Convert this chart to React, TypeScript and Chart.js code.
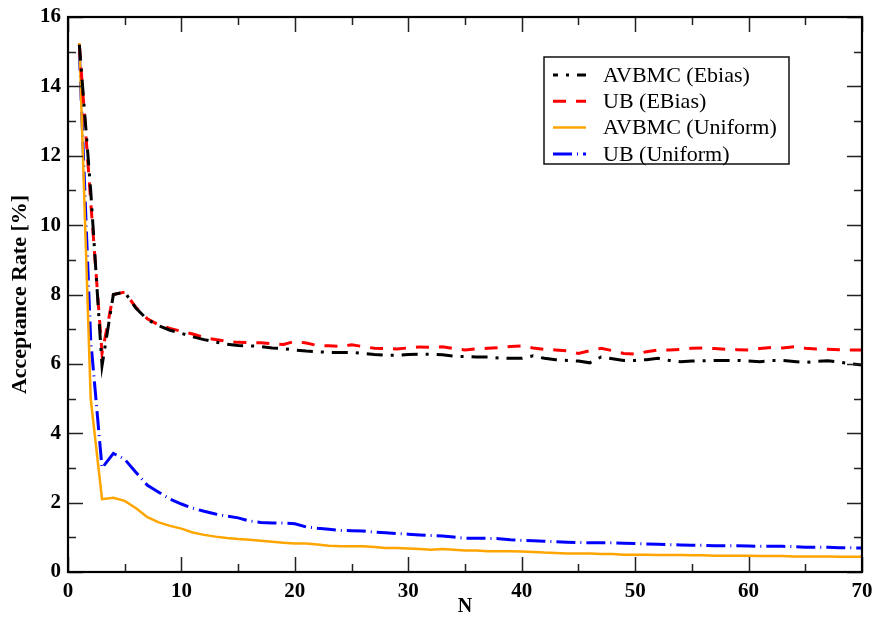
import React, { useEffect, useRef } from "react";
import { Chart, registerables } from "chart.js";
Chart.register(...registerables);

const N = [1, 2, 3, 4, 5, 6, 7, 8, 9, 10, 11, 12, 13, 14, 15, 16, 17, 18, 19, 20, 21, 22, 23, 24, 25, 26, 27, 28, 29, 30, 31, 32, 33, 34, 35, 36, 37, 38, 39, 40, 41, 42, 43, 44, 45, 46, 47, 48, 49, 50, 51, 52, 53, 54, 55, 56, 57, 58, 59, 60, 61, 62, 63, 64, 65, 66, 67, 68, 69, 70];

const avbmcEbias = [15.2, 11.0, 5.95, 8.0, 8.07, 7.6, 7.28, 7.1, 6.97, 6.88, 6.78, 6.7, 6.63, 6.57, 6.53, 6.52, 6.5, 6.46, 6.44, 6.4, 6.37, 6.35, 6.33, 6.33, 6.33, 6.3, 6.27, 6.25, 6.25, 6.27, 6.28, 6.28, 6.26, 6.22, 6.21, 6.2, 6.2, 6.17, 6.16, 6.16, 6.23, 6.16, 6.12, 6.1, 6.08, 6.03, 6.2, 6.15, 6.1, 6.1, 6.12, 6.16, 6.1, 6.06, 6.08, 6.09, 6.1, 6.1, 6.1, 6.08, 6.06, 6.1, 6.1, 6.07, 6.04, 6.07, 6.09, 6.05, 6.0, 5.97];

const ubEbias = [15.2, 10.7, 6.3, 8.0, 8.07, 7.62, 7.3, 7.12, 7.02, 6.94, 6.86, 6.76, 6.7, 6.65, 6.62, 6.61, 6.61, 6.58, 6.56, 6.65, 6.6, 6.53, 6.52, 6.5, 6.55, 6.5, 6.45, 6.44, 6.43, 6.46, 6.49, 6.48, 6.49, 6.44, 6.4, 6.43, 6.45, 6.47, 6.5, 6.52, 6.46, 6.42, 6.4, 6.38, 6.3, 6.38, 6.45, 6.38, 6.3, 6.28, 6.35, 6.4, 6.4, 6.42, 6.45, 6.46, 6.44, 6.42, 6.41, 6.4, 6.44, 6.47, 6.46, 6.49, 6.45, 6.43, 6.42, 6.41, 6.4, 6.4];

const avbmcUniform = [15.25, 5.0, 2.1, 2.14, 2.05, 1.84, 1.58, 1.43, 1.33, 1.25, 1.14, 1.07, 1.02, 0.98, 0.95, 0.93, 0.9, 0.87, 0.84, 0.82, 0.82, 0.79, 0.76, 0.74, 0.74, 0.74, 0.72, 0.69, 0.69, 0.68, 0.66, 0.64, 0.66, 0.64, 0.62, 0.62, 0.6, 0.6, 0.6, 0.59, 0.58, 0.56, 0.55, 0.53, 0.53, 0.53, 0.52, 0.52, 0.5, 0.5, 0.5, 0.49, 0.49, 0.49, 0.48, 0.48, 0.47, 0.47, 0.47, 0.47, 0.46, 0.46, 0.46, 0.45, 0.45, 0.45, 0.45, 0.44, 0.44, 0.44];

const ubUniform = [15.0, 6.7, 3.0, 3.42, 3.25, 2.87, 2.5, 2.3, 2.1, 1.96, 1.84, 1.75, 1.67, 1.61, 1.56, 1.47, 1.43, 1.41, 1.41, 1.39, 1.3, 1.26, 1.23, 1.2, 1.19, 1.18, 1.15, 1.13, 1.11, 1.09, 1.07, 1.05, 1.04, 1.01, 0.97, 0.97, 0.97, 0.96, 0.93, 0.91, 0.9, 0.89, 0.87, 0.86, 0.85, 0.84, 0.84, 0.84, 0.83, 0.82, 0.81, 0.8, 0.79, 0.78, 0.77, 0.77, 0.76, 0.76, 0.76, 0.75, 0.74, 0.74, 0.74, 0.73, 0.71, 0.71, 0.71, 0.7, 0.7, 0.69];

const seriesLabels = ["AVBMC (Ebias)", "UB (EBias)", "AVBMC (Uniform)", "UB (Uniform)"];
const seriesColors = ["#000000", "#ff0000", "#ffa500", "#0000ff"];
const seriesDashes = [[16, 8, 3, 8], [13, 10], [], [19, 5, 1, 5]];
const seriesWidths = [3, 3, 2.5, 3];

const xTitle = "N";
const yTitle = "Acceptance Rate [%]";

const SERIF = "'Liberation Serif', 'Times New Roman', serif";

const framePlugin = {
  id: "frameTicks",
  afterDatasetsDraw(chart: any) {
    const { ctx, chartArea, scales } = chart;
    const { left, right, top, bottom } = chartArea;
    const x = scales.x;
    const y = scales.y;
    ctx.save();
    ctx.strokeStyle = "#222";
    ctx.lineWidth = 1.5;
    ctx.beginPath();
    for (let v = x.min; v <= x.max + 1e-9; v += 5) {
      const px = Math.round(x.getPixelForValue(v)) + 0.5;
      const len = Math.abs(v % 10) < 1e-9 ? 15 : 8;
      ctx.moveTo(px, bottom);
      ctx.lineTo(px, bottom - len);
      ctx.moveTo(px, top);
      ctx.lineTo(px, top + len);
    }
    for (let v = y.min; v <= y.max + 1e-9; v += 1) {
      const py = Math.round(y.getPixelForValue(v)) + 0.5;
      const len = Math.abs(v % 2) < 1e-9 ? 15 : 8;
      ctx.moveTo(left, py);
      ctx.lineTo(left + len, py);
      ctx.moveTo(right, py);
      ctx.lineTo(right - len, py);
    }
    ctx.stroke();
    ctx.strokeStyle = "#000";
    ctx.lineWidth = 2.2;
    ctx.strokeRect(left, top, right - left, bottom - top);

    // legend
    const bx = left + 476;
    const by = top + 40;
    const bw = 245;
    const bh = 107;
    ctx.lineWidth = 1.5;
    ctx.strokeStyle = "#111";
    ctx.strokeRect(bx, by, bw, bh);
    ctx.font = "22px " + SERIF;
    ctx.fillStyle = "#000";
    ctx.textBaseline = "middle";
    ctx.textAlign = "left";
    for (let i = 0; i < seriesLabels.length; i++) {
      const ry = by + 18 + i * 26.3;
      ctx.save();
      ctx.strokeStyle = seriesColors[i];
      ctx.lineWidth = seriesWidths[i];
      ctx.setLineDash(seriesDashes[i]);
      if (i === 0) ctx.lineDashOffset = 11;
      ctx.beginPath();
      ctx.moveTo(bx + 9, ry);
      ctx.lineTo(bx + 42, ry);
      ctx.stroke();
      ctx.restore();
      ctx.fillText(seriesLabels[i], bx + 59, ry + 1);
    }
    ctx.restore();
  },
};

export default function App() {
  const ref = useRef<HTMLCanvasElement | null>(null);
  useEffect(() => {
    if (!ref.current) return;
    const all = [avbmcEbias, ubEbias, avbmcUniform, ubUniform];
    const chart = new Chart(ref.current, {
      type: "line",
      data: {
        datasets: all.map((arr, i) => ({
          label: seriesLabels[i],
          data: arr.map((v, j) => ({ x: N[j], y: v })),
          borderColor: seriesColors[i],
          borderWidth: seriesWidths[i],
          borderDash: seriesDashes[i],
          pointRadius: 0,
          fill: false,
          tension: 0,
        })),
      },
      options: {
        responsive: false,
        animation: false,
        devicePixelRatio: 1,
        layout: { padding: { top: 17, right: 14, left: 0, bottom: 0 } },
        plugins: { legend: { display: false }, tooltip: { enabled: false } },
        scales: {
          x: {
            type: "linear",
            min: 0,
            max: 70,
            grid: { display: false, drawTicks: false },
            border: { display: false },
            ticks: {
              stepSize: 10,
              color: "#000",
              padding: 7,
              maxRotation: 0,
              font: { family: SERIF, size: 21, weight: "bold" },
            },
            title: {
              display: true,
              text: xTitle,
              color: "#000",
              padding: { top: 0, bottom: 1 },
              font: { family: SERIF, size: 20, weight: "bold" },
            },
            afterFit: (s: any) => {
              s.height = 48;
              s.paddingLeft = 0;
              s.paddingRight = 0;
            },
          },
          y: {
            min: 0,
            max: 16,
            grid: { display: false, drawTicks: false },
            border: { display: false },
            ticks: {
              stepSize: 2,
              color: "#000",
              padding: 7,
              font: { family: SERIF, size: 21, weight: "bold" },
            },
            title: {
              display: true,
              text: yTitle,
              color: "#000",
              padding: { top: 7, bottom: 0 },
              font: { family: SERIF, size: 22, weight: "bold" },
            },
            afterFit: (s: any) => {
              s.width = 68;
              s.paddingTop = 0;
              s.paddingBottom = 0;
            },
          },
        },
      },
      plugins: [framePlugin],
    });
    return () => chart.destroy();
  }, []);
  return (
    <div style={{ position: "absolute", left: 0, top: 0, width: 876, height: 620, background: "#fff" }}>
      <canvas ref={ref} width={876} height={620} />
    </div>
  );
}
